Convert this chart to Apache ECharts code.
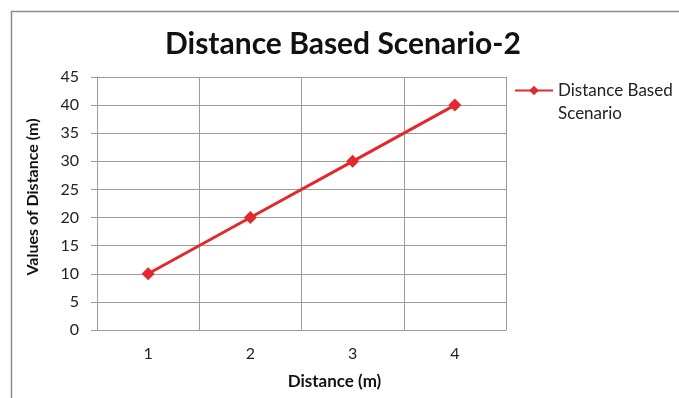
<!DOCTYPE html>
<html>
<head>
<meta charset="utf-8">
<script src="https://cdn.jsdelivr.net/npm/echarts@6/dist/echarts.min.js"></script>
<style>
  html, body { margin: 0; padding: 0; background: #fff; }
  #chart { width: 679px; height: 398px; }
</style>
</head>
<body>
<div id="chart"></div>
<script>
// Distance categories along the x axis
const categories = ['1', '2', '3', '4'];
// Measured distance values for the scenario
const distanceValues = [10, 20, 30, 40];
const seriesName = 'Distance Based Scenario';

const FONT = 'Lato, "Open Sans", sans-serif';
const GRID_COLOR = '#9b9b9b';
const LINE_COLOR = '#e2292b';

const chart = echarts.init(document.getElementById('chart'), null, { renderer: 'canvas' });

chart.setOption({
  backgroundColor: '#ffffff',
  animation: false,
  graphic: [{
    type: 'rect',
    left: 9, top: 9,
    shape: { width: 700, height: 420 },
    style: { fill: 'none', stroke: '#8c8c8c', lineWidth: 1.5 },
    silent: true
  }],
  title: {
    text: 'Distance Based Scenario-2',
    left: 165,
    top: 29,
    padding: 0,
    textStyle: { fontFamily: FONT, fontWeight: 'bold', fontSize: 30, color: '#111' }
  },
  legend: {
    left: 514, top: 59,
    padding: 0,
    orient: 'vertical',
    itemWidth: 38, itemHeight: 12,
    // spacer line on top keeps the marker level with the first text line
    formatter: (name) => '{s| }\n{t|Distance Based}\n{t|Scenario}',
    textStyle: {
      fontFamily: FONT, fontSize: 17, color: '#222',
      rich: {
        s: { fontSize: 17, lineHeight: 23 },
        t: { fontFamily: FONT, fontSize: 17, color: '#222', lineHeight: 23 }
      }
    },
    data: [{ name: seriesName }]
  },
  grid: { left: 97, top: 77, right: 173, bottom: 68 },
  xAxis: {
    type: 'category',
    data: categories,
    boundaryGap: true,
    name: 'Distance (m)',
    nameLocation: 'middle',
    nameGap: 43,
    nameTextStyle: {
      fontFamily: FONT, fontWeight: 'bold', fontSize: 17, color: '#111',
      padding: [0, 0, 0, 66]
    },
    axisLine: { lineStyle: { color: GRID_COLOR, width: 1 } },
    axisTick: { show: false },
    axisLabel: { fontFamily: FONT, fontSize: 16, color: '#222', margin: 16 },
    splitLine: { show: true, lineStyle: { color: GRID_COLOR, width: 1 } }
  },
  yAxis: {
    type: 'value',
    min: 0, max: 45, interval: 5,
    name: 'Values of Distance (m)',
    nameLocation: 'middle',
    nameGap: 56,
    nameRotate: 90,
    nameTextStyle: {
      fontFamily: FONT, fontWeight: 'bold', fontSize: 16, color: '#111',
      padding: [0, 0, 0, 13]
    },
    axisLine: { show: true, lineStyle: { color: GRID_COLOR, width: 1 } },
    axisTick: { show: true, length: 6, lineStyle: { color: GRID_COLOR } },
    axisLabel: { fontFamily: FONT, fontSize: 16, color: '#222', margin: 18 },
    splitLine: { show: true, lineStyle: { color: GRID_COLOR, width: 1 } }
  },
  series: [{
    name: seriesName,
    type: 'line',
    data: distanceValues,
    symbol: 'diamond',
    symbolSize: 13,
    lineStyle: { color: LINE_COLOR, width: 3 },
    itemStyle: { color: LINE_COLOR }
  }]
});
</script>
</body>
</html>
